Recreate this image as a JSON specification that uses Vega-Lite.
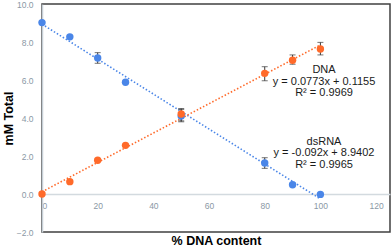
{
  "$schema": "https://vega.github.io/schema/vega-lite/v6.json",
  "width": 348,
  "height": 228,
  "autosize": {"type": "none"},
  "padding": {"left": 42, "top": 4, "right": 2, "bottom": 15},
  "background": "white",
  "config": {
    "view": {"stroke": "#404040", "strokeWidth": 1.5},
    "font": "Liberation Sans"
  },
  "datasets": {
    "points": [
      {"series": "dsRNA", "x": 0, "y": 9.02},
      {"series": "dsRNA", "x": 10, "y": 8.27},
      {"series": "dsRNA", "x": 20, "y": 7.16, "lo": 6.88, "hi": 7.44},
      {"series": "dsRNA", "x": 30, "y": 5.88},
      {"series": "dsRNA", "x": 50, "y": 4.1, "lo": 3.8, "hi": 4.45},
      {"series": "dsRNA", "x": 80, "y": 1.63, "lo": 1.35, "hi": 1.91},
      {"series": "dsRNA", "x": 90, "y": 0.49},
      {"series": "dsRNA", "x": 100, "y": -0.02},
      {"series": "DNA", "x": 0, "y": 0.0},
      {"series": "DNA", "x": 10, "y": 0.65},
      {"series": "DNA", "x": 20, "y": 1.78},
      {"series": "DNA", "x": 30, "y": 2.56},
      {"series": "DNA", "x": 50, "y": 4.21, "lo": 3.85, "hi": 4.5},
      {"series": "DNA", "x": 80, "y": 6.35, "lo": 5.96, "hi": 6.7},
      {"series": "DNA", "x": 90, "y": 7.04, "lo": 6.83, "hi": 7.32},
      {"series": "DNA", "x": 100, "y": 7.63, "lo": 7.32, "hi": 7.98}
    ],
    "trend": [
      {"series": "dsRNA", "x": 0, "y": 8.9402},
      {"series": "dsRNA", "x": 100, "y": -0.2598},
      {"series": "DNA", "x": 0, "y": 0.1155},
      {"series": "DNA", "x": 100, "y": 7.8455}
    ],
    "labels": [
      {"x": 101.3, "y": 6.53, "text": "DNA"},
      {"x": 101.3, "y": 5.92, "text": "y = 0.0773x + 0.1155"},
      {"x": 101.3, "y": 5.32, "text": "R² = 0.9969"},
      {"x": 101.3, "y": 2.75, "text": "dsRNA"},
      {"x": 101.3, "y": 2.14, "text": "y = -0.092x + 8.9402"},
      {"x": 101.3, "y": 1.53, "text": "R² = 0.9965"}
    ]
  },
  "encoding": {
    "x": {
      "field": "x",
      "type": "quantitative",
      "scale": {"domain": [0, 125], "nice": false, "zero": false},
      "axis": {
        "values": [0, 20, 40, 60, 80, 100, 120],
        "offset": -38,
        "ticks": false,
        "grid": false,
        "domainColor": "#d3dadf",
        "domainWidth": 1.5,
        "labelColor": "#8a98a5",
        "labelFontSize": 8.5,
        "labelPadding": 7,
        "title": "% DNA content",
        "titleFontSize": 12.5,
        "titleFontWeight": "bold",
        "titleColor": "#000000",
        "titleBaseline": "middle",
        "titleY": 46
      }
    },
    "y": {
      "field": "y",
      "type": "quantitative",
      "scale": {"domain": [-2, 10], "nice": false, "zero": false},
      "axis": {
        "values": [-2, 0, 2, 4, 6, 8, 10],
        "format": ".1f",
        "ticks": false,
        "grid": false,
        "domainColor": "#c6cfd6",
        "domainWidth": 1.5,
        "labelColor": "#8a98a5",
        "labelFontSize": 8.5,
        "labelPadding": 9,
        "title": "mM Total",
        "titleFontSize": 12.5,
        "titleFontWeight": "bold",
        "titleColor": "#000000",
        "titleBaseline": "middle",
        "titleX": -34
      }
    }
  },
  "layer": [
    {
      "data": {"name": "trend"},
      "mark": {"type": "line", "strokeDash": [1.5, 2], "strokeWidth": 1.6},
      "encoding": {
        "color": {"field": "series", "type": "nominal", "scale": {"domain": ["dsRNA", "DNA"], "range": ["#4a86e8", "#ff6a2a"]}, "legend": null},
        "detail": {"field": "series"}
      }
    },
    {
      "data": {"name": "points"},
      "transform": [{"filter": "datum.lo != null"}],
      "mark": {"type": "rule", "color": "#3a3a3a", "strokeWidth": 1},
      "encoding": {
        "y": {"field": "lo", "type": "quantitative"},
        "y2": {"field": "hi"}
      }
    },
    {
      "data": {"name": "points"},
      "transform": [{"filter": "datum.lo != null"}],
      "mark": {"type": "tick", "orient": "horizontal", "color": "#3a3a3a", "size": 6, "thickness": 1},
      "encoding": {
        "y": {"field": "lo", "type": "quantitative"}
      }
    },
    {
      "data": {"name": "points"},
      "transform": [{"filter": "datum.hi != null"}],
      "mark": {"type": "tick", "orient": "horizontal", "color": "#3a3a3a", "size": 6, "thickness": 1},
      "encoding": {
        "y": {"field": "hi", "type": "quantitative"}
      }
    },
    {
      "data": {"name": "points"},
      "mark": {"type": "point", "filled": true, "size": 55, "opacity": 1},
      "encoding": {
        "color": {"field": "series", "type": "nominal", "scale": {"domain": ["dsRNA", "DNA"], "range": ["#3a78e6", "#ff5b1a"]}, "legend": null}
      }
    },
    {
      "data": {"name": "labels"},
      "mark": {"type": "text", "fontSize": 11, "color": "#1a1a1a", "align": "center", "baseline": "middle"},
      "encoding": {
        "text": {"field": "text"}
      }
    }
  ]
}
